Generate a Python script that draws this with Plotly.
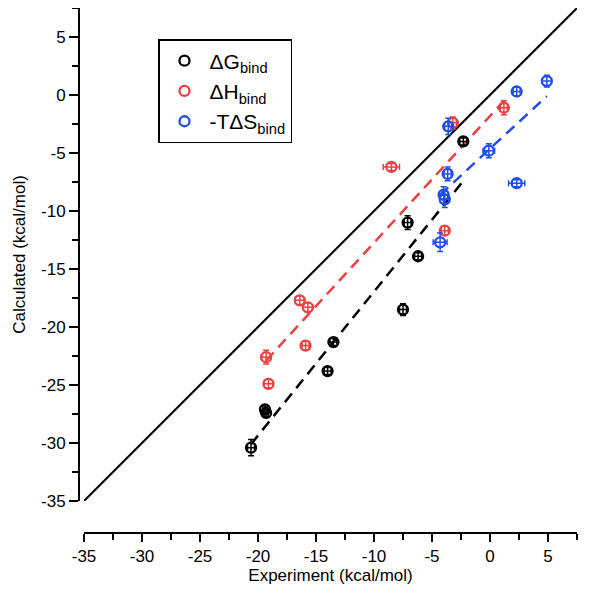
import plotly.graph_objects as go

# ---------------- data (kcal/mol) ----------------
dG_exp  = [-20.6, -19.4, -19.3, -14.0, -13.5, -7.5, -7.1, -6.2, -2.3]
dG_calc = [-30.4, -27.1, -27.4, -23.8, -21.3, -18.5, -11.0, -13.9, -4.0]
dG_xerr = [0.3, 0.2, 0.2, 0.3, 0.3, 0.3, 0.3, 0.3, 0.3]
dG_yerr = [0.7, 0.3, 0.3, 0.3, 0.3, 0.5, 0.6, 0.3, 0.3]

dH_exp  = [-19.3, -19.1, -16.4, -15.7, -15.9, -8.5, -3.9, -3.2, 1.2]
dH_calc = [-22.6, -24.9, -17.7, -18.3, -21.6, -6.2, -11.7, -2.4, -1.1]
dH_xerr = [0.4, 0.4, 0.4, 0.4, 0.3, 0.7, 0.3, 0.3, 0.3]
dH_yerr = [0.6, 0.4, 0.4, 0.4, 0.4, 0.3, 0.4, 0.5, 0.6]

TdS_exp  = [-4.3, -4.0, -3.9, -3.65, -3.6, -0.1, 2.3, 2.3, 4.9]
TdS_calc = [-12.7, -8.6, -9.0, -6.8, -2.7, -4.8, -7.6, 0.3, 1.2]
TdS_xerr = [0.6, 0.4, 0.4, 0.3, 0.3, 0.5, 0.7, 0.3, 0.4]
TdS_yerr = [0.8, 0.7, 0.7, 0.6, 0.7, 0.6, 0.3, 0.4, 0.5]

# fitted lines (end points)
dG_fit_x, dG_fit_y = [-20.6, -2.3], [-30.1, -7.4]
dH_fit_x, dH_fit_y = [-19.3, 1.2], [-22.9, -0.5]
TdS_fit_x, TdS_fit_y = [-4.3, 4.9], [-8.6, -0.1]
ident = [-35, 7.5]

tick_vals = [-35, -30, -25, -20, -15, -10, -5, 0, 5]
tick_text = ["-35", "-30", "-25", "-20", "-15", "-10", "-5", "0", "5"]
minor_vals = [-32.5, -27.5, -22.5, -17.5, -12.5, -7.5, -2.5, 2.5, 7.5]

names = ["ΔG<sub>bind</sub>", "ΔH<sub>bind</sub>", "-TΔS<sub>bind</sub>"]
colors = ["#000000", "#EB4040", "#1F4FE8"]

fig = go.Figure()

dash = "11px,7px"
for fx, fy, c in [(dG_fit_x, dG_fit_y, colors[0]), (dH_fit_x, dH_fit_y, colors[1]),
                  (TdS_fit_x, TdS_fit_y, colors[2])]:
    fig.add_trace(go.Scatter(x=fx, y=fy, mode="lines", showlegend=False,
                             line=dict(color=c, width=2.5, dash=dash)))

fig.add_trace(go.Scatter(x=ident, y=ident, mode="lines", showlegend=False,
                         line=dict(color="black", width=2)))

for ex, ca, xe, ye, nm, c in [
    (dG_exp, dG_calc, dG_xerr, dG_yerr, names[0], colors[0]),
    (dH_exp, dH_calc, dH_xerr, dH_yerr, names[1], colors[1]),
    (TdS_exp, TdS_calc, TdS_xerr, TdS_yerr, names[2], colors[2]),
]:
    fig.add_trace(go.Scatter(
        x=ex, y=ca, mode="markers", name=nm,
        marker=dict(symbol="circle-open", size=10, color=c, line=dict(width=2.3, color=c)),
        error_x=dict(type="data", array=xe, color=c, thickness=1.5, width=3),
        error_y=dict(type="data", array=ye, color=c, thickness=1.5, width=3),
    ))

W, H = 612, 596
YLINE_X = 71      # pixel x of the y-axis line
X_LEFT = 76       # pixel x of x=-35
X_RIGHT = 569     # pixel x of x=7.5
XLINE_Y = 525     # pixel y of the x-axis line
Y_BOT = 493       # pixel y of y=-35

L, R, T, B = YLINE_X, W - X_RIGHT, 0, H - XLINE_Y
plot_w = W - L - R
plot_h = H - T - B

axis_font = dict(family="Liberation Sans, Arial, sans-serif", size=17, color="black")

fig.update_layout(
    width=W, height=H,
    margin=dict(l=L, r=R, t=T, b=B, pad=0),
    paper_bgcolor="white", plot_bgcolor="white",
    font=axis_font,
    showlegend=True,
    legend=dict(
        x=(150 - L) / plot_w, y=1 - 31 / plot_h, xanchor="left", yanchor="top",
        bordercolor="black", borderwidth=1.5, bgcolor="white",
        font=dict(family="Liberation Sans, Arial, sans-serif", size=21, color="black"),
        itemwidth=40, tracegroupgap=0,
    ),
    xaxis=dict(
        range=[-35, 7.5], domain=[(X_LEFT - L) / plot_w, 1], anchor="free", position=0,
        showgrid=False, zeroline=False, showline=True, linecolor="black", linewidth=2,
        ticks="outside", ticklen=8, tickwidth=2, tickcolor="black",
        tickvals=tick_vals, ticktext=tick_text, tickfont=axis_font,
        minor=dict(tickvals=minor_vals, ticks="outside", ticklen=6, tickwidth=2,
                   tickcolor="black"),
        title=dict(text="Experiment (kcal/mol)", font=axis_font, standoff=0),
    ),
    yaxis=dict(
        range=[-35, 7.5], domain=[(XLINE_Y - Y_BOT) / plot_h, 1], anchor="free", position=0,
        showgrid=False, zeroline=False, showline=True, linecolor="black", linewidth=2,
        ticks="outside", ticklen=9, tickwidth=2, tickcolor="black",
        tickvals=tick_vals, ticktext=tick_text, tickfont=axis_font,
        minor=dict(tickvals=minor_vals, ticks="outside", ticklen=6, tickwidth=2,
                   tickcolor="black"),
        title=dict(text="Calculated (kcal/mol)", font=axis_font, standoff=10),
    ),
)

fig.write_html("out.html")
